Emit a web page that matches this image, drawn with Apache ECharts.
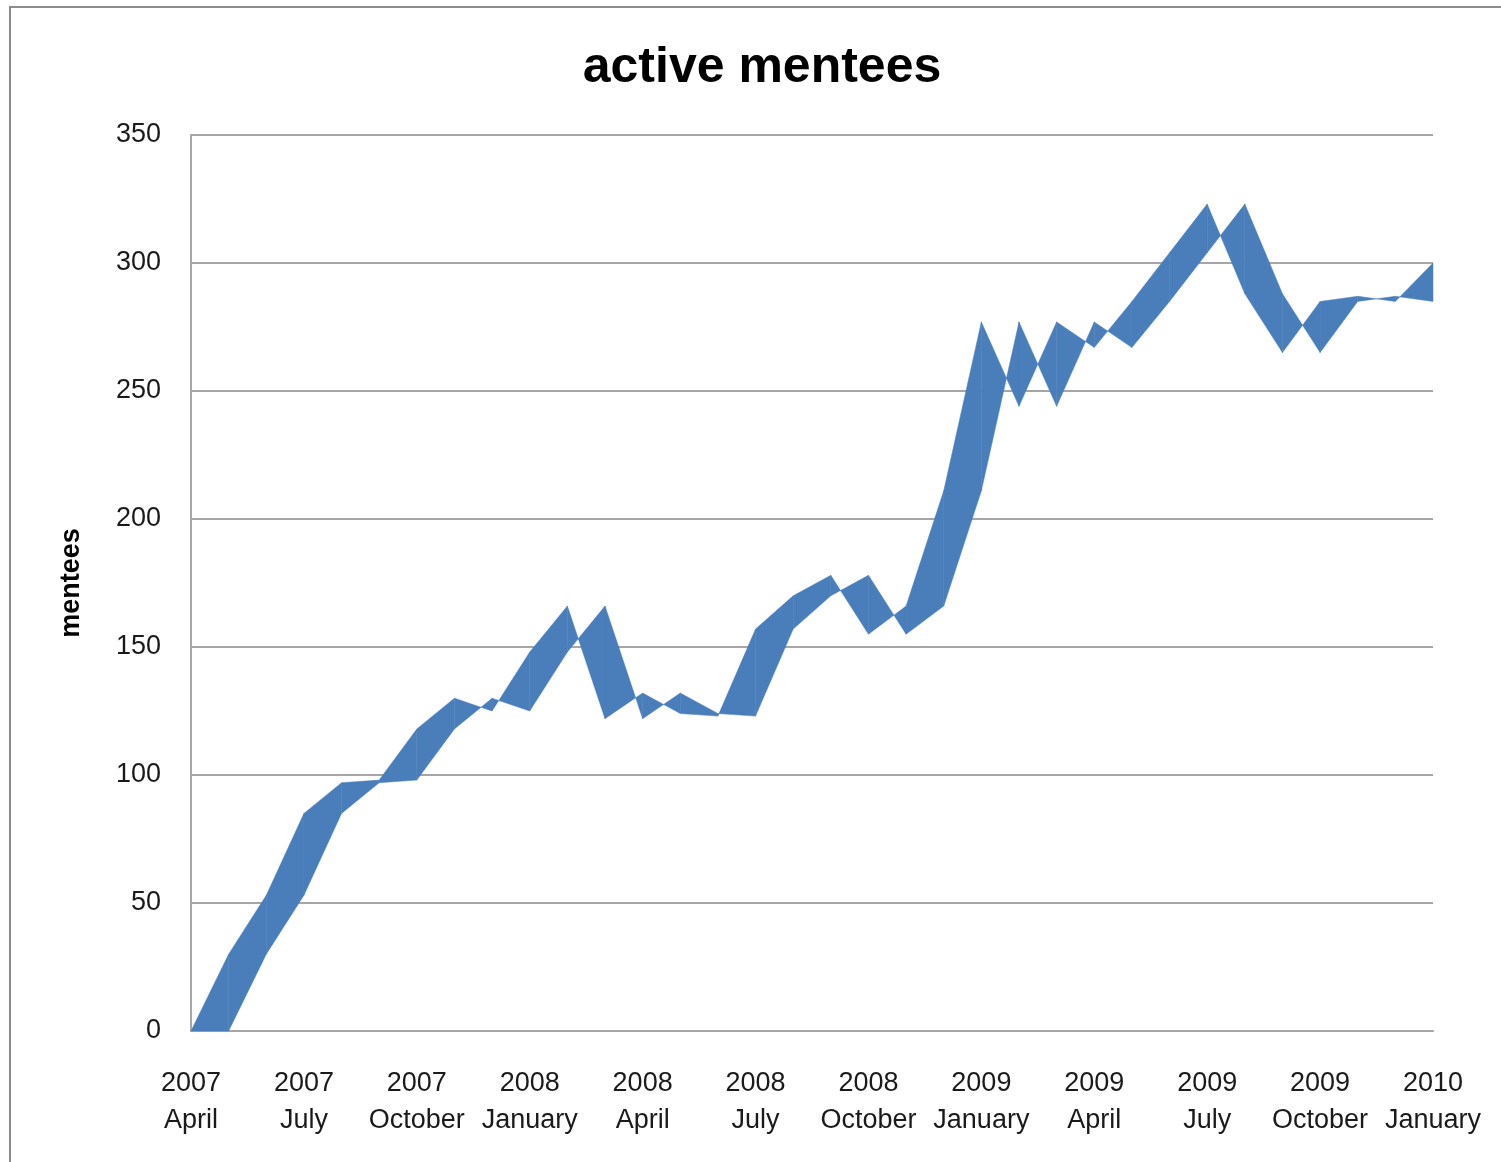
<!DOCTYPE html>
<html>
<head>
<meta charset="utf-8">
<script src="https://cdn.jsdelivr.net/npm/echarts@6/dist/echarts.min.js"></script>
<style>
    html, body { margin: 0; padding: 0; overflow: hidden; background: #fff; }
    #frame {
        position: absolute; left: 9px; top: 6px; width: 1600px; height: 1300px;
        border-left: 2px solid #8c8c8c; border-top: 2px solid #8c8c8c;
    }
    #chart { position: absolute; left: 0; top: 0; width: 1501px; height: 1162px; }
</style>
</head>
<body>
<div id="frame"></div>
<div id="chart"></div>
<script>
// months, April 2007 .. January 2010
const months = [
    '2007\nApril', '2007\nMay', '2007\nJune', '2007\nJuly', '2007\nAugust', '2007\nSeptember',
    '2007\nOctober', '2007\nNovember', '2007\nDecember', '2008\nJanuary', '2008\nFebruary', '2008\nMarch',
    '2008\nApril', '2008\nMay', '2008\nJune', '2008\nJuly', '2008\nAugust', '2008\nSeptember',
    '2008\nOctober', '2008\nNovember', '2008\nDecember', '2009\nJanuary', '2009\nFebruary', '2009\nMarch',
    '2009\nApril', '2009\nMay', '2009\nJune', '2009\nJuly', '2009\nAugust', '2009\nSeptember',
    '2009\nOctober', '2009\nNovember', '2009\nDecember', '2010\nJanuary'
];

// active mentees per month
const activeMentees = [
    0, 30, 53, 85, 97, 98, 118, 130, 125, 148, 166, 122,
    132, 124, 123, 157, 170, 178, 155, 166, 211, 277, 244, 277,
    267, 285, 304, 323, 288, 265, 285, 287, 285, 300
];

// the ribbon's other edge: last month's count
const previousMonth = [0].concat(activeMentees.slice(0, -1));

const yTicks = { min: 0, max: 350, interval: 50 };

const fillColor = '#4a7ebb';
const gridColor = '#a6a6a6';
const textColor = '#1a1a1a';
const font = '"Liberation Sans", Arial, sans-serif';

const segments = [];
for (let i = 0; i < activeMentees.length - 1; i++) {
    segments.push([i, activeMentees[i], previousMonth[i], activeMentees[i + 1], previousMonth[i + 1]]);
}

const chart = echarts.init(document.getElementById('chart'));

chart.setOption({
    animation: false,
    title: {
        text: 'active mentees',
        left: 757,
        top: 38,
        textAlign: 'center',
        textStyle: {
            fontFamily: font,
            fontSize: 50,
            fontWeight: 'bold',
            color: '#000'
        }
    },
    grid: {
        left: 191,
        right: 68,
        top: 135,
        bottom: 131,
        containLabel: false
    },
    xAxis: {
        type: 'category',
        data: months,
        boundaryGap: false,
        axisLine: { show: true, lineStyle: { color: gridColor, width: 2 } },
        axisTick: { show: false },
        axisLabel: {
            interval: 2,
            margin: 34,
            lineHeight: 37,
            fontFamily: font,
            fontSize: 27,
            color: textColor
        },
        splitLine: { show: false }
    },
    yAxis: {
        type: 'value',
        min: yTicks.min,
        max: yTicks.max,
        interval: yTicks.interval,
        name: 'mentees',
        nameLocation: 'middle',
        nameGap: 106,
        nameRotate: 90,
        nameTextStyle: {
            fontFamily: font,
            fontSize: 27,
            fontWeight: 'bold',
            color: '#000'
        },
        axisLine: { show: true, lineStyle: { color: gridColor, width: 2 } },
        axisTick: { show: false },
        axisLabel: {
            margin: 30,
            padding: [6, 0, 0, 0],
            fontFamily: font,
            fontSize: 27,
            color: textColor
        },
        splitLine: { show: true, lineStyle: { color: gridColor, width: 2 } }
    },
    series: [{
        type: 'custom',
        name: 'active mentees',
        data: segments,
        encode: { x: 0, y: [1, 2, 3, 4] },
        renderItem: function (params, api) {
            const i = api.value(0);
            const p1 = api.coord([i, api.value(1)]);
            const p2 = api.coord([i + 1, api.value(3)]);
            const p3 = api.coord([i + 1, api.value(4)]);
            const p4 = api.coord([i, api.value(2)]);
            return {
                type: 'polygon',
                shape: { points: [p1, p2, p3, p4] },
                style: { fill: fillColor, stroke: fillColor, lineWidth: 0.5 }
            };
        }
    }]
});
</script>
</body>
</html>
